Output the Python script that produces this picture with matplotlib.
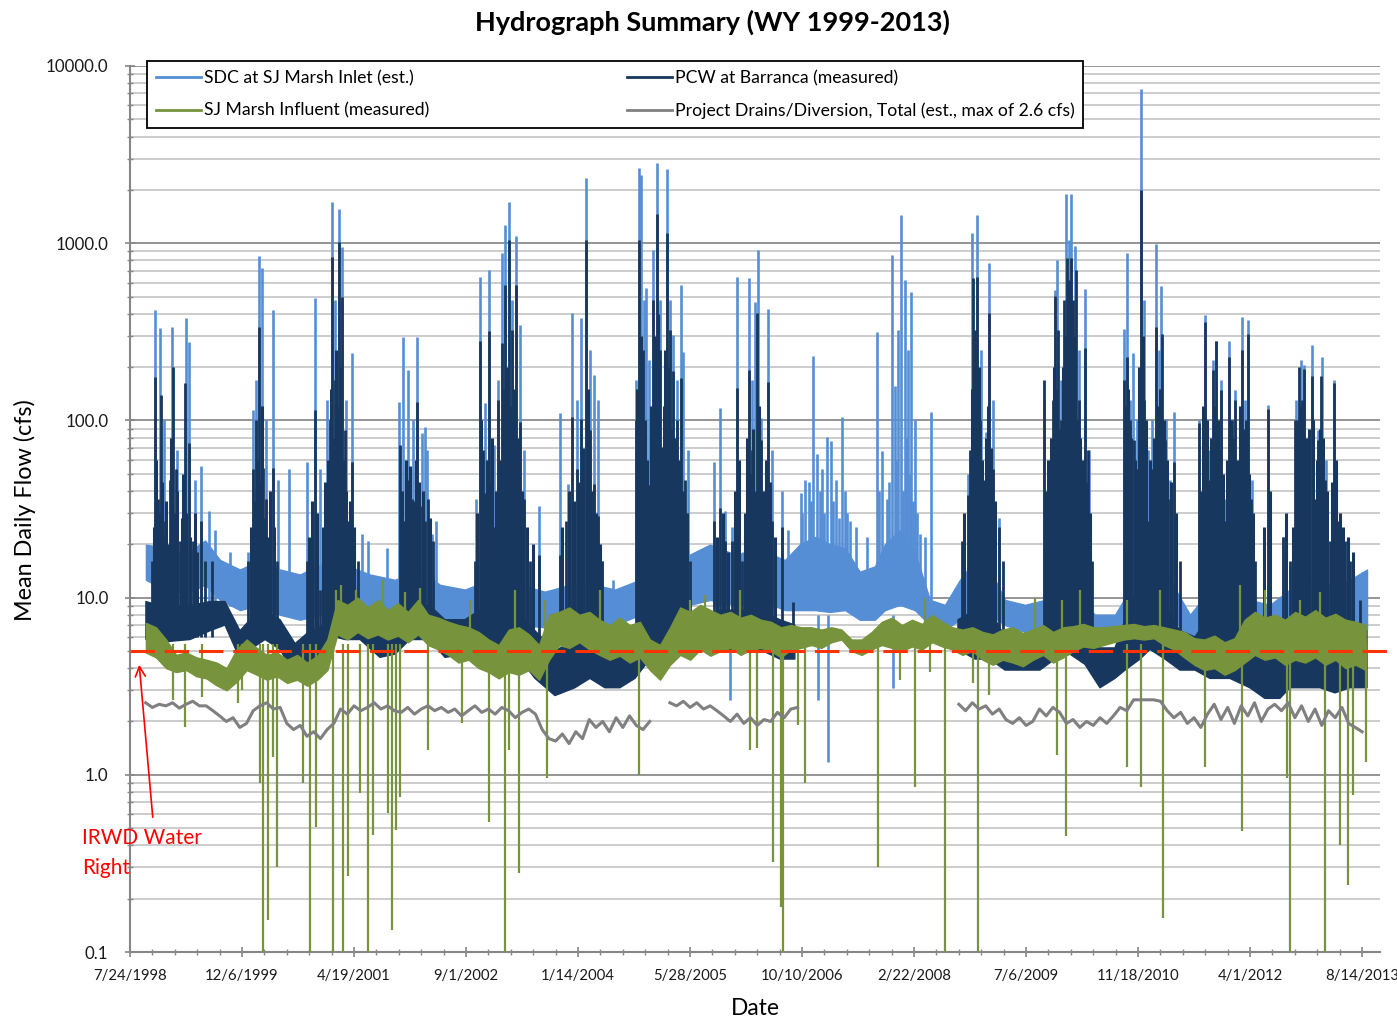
import numpy as np
import pandas as pd
import matplotlib
matplotlib.use("Agg")
import matplotlib.pyplot as plt
import matplotlib.dates as mdates
from matplotlib.lines import Line2D
from matplotlib.ticker import LogLocator, FuncFormatter, NullFormatter, FixedLocator

plt.rcParams["font.family"] = ["Lato", "DejaVu Sans"]

# day counts below are measured from this date
START = np.datetime64("1998-07-24")

date_ticks = ["7/24/1998", "12/6/1999", "4/19/2001", "9/1/2002", "1/14/2004", "5/28/2005",
              "10/10/2006", "2/22/2008", "7/6/2009", "11/18/2010", "4/1/2012", "8/14/2013"]
y_ticks = [0.1, 1.0, 10.0, 100.0, 1000.0, 10000.0]
water_right = 5.0   # IRWD water right, cfs

# ---- SDC at SJ Marsh Inlet (est.) ----
# low-flow band: day, low, high (cfs)
sdc_band_day = [71, 156, 245, 335, 402, 491, 580, 670, 759, 848, 960, 1071, 1183, 1294, 1384, 1495,
                1607, 1741, 1852, 1964, 2076, 2165, 2277, 2388, 2500, 2589, 2701, 2812, 2924, 2991,
                3058, 3125, 3192, 3258, 3325, 3370, 3437, 3504, 3571, 3638, 3705, 3772, 3839, 3906,
                3995, 4084, 4151, 4240, 4308, 4397, 4464, 4553, 4642, 4732, 4821, 4910, 4999, 5089,
                5178, 5267, 5356, 5446, 5522]
sdc_band_lo = [12.6, 11.1, 10.4, 11.8, 9.7, 8.5, 9.1, 8.0, 7.5, 8.0, 8.5, 8.5, 8.0, 8.5, 7.5, 7.0,
               7.5, 7.0, 6.8, 7.0, 7.0, 7.0, 8.0, 8.5, 9.1, 9.7, 9.1, 9.7, 8.5, 8.5,
               8.5, 8.3, 8.5, 7.5, 7.5, 8.5, 9.1, 8.5, 7.0, 6.6, 7.5, 8.0, 8.0, 7.0,
               6.4, 6.6, 7.0, 7.0, 5.8, 5.9, 7.5, 8.5, 8.0, 5.8, 7.0, 7.0, 6.6, 6.6,
               7.0, 7.5, 7.5, 7.0, 6.6]
sdc_band_hi = [19.9, 19.1, 17.5, 21.0, 16.3, 14.4, 16.3, 14.4, 13.5, 15.3, 15.3, 13.5, 12.6, 14.4, 11.8, 11.1,
               12.6, 11.8, 10.8, 11.8, 11.8, 11.1, 12.6, 14.4, 17.5, 19.9, 17.5, 18.6, 16.3, 20.0,
               22.0, 20.0, 19.0, 14.0, 15.0, 20.0, 24.0, 18.0, 9.7, 9.1, 12.6, 16.3, 14.4, 9.7,
               9.1, 9.7, 11.1, 9.7, 8.0, 8.0, 11.1, 16.3, 12.6, 8.0, 11.1, 11.1, 9.7, 9.1,
               11.1, 12.6, 11.8, 12.6, 14.4]
# storm peaks
sdc_peak_day = [111, 134, 152, 187, 210, 250, 263, 290, 317, 352, 379,
                446, 527, 549, 562, 576, 589, 607, 638, 660, 710,
                790, 826, 848, 879, 902, 915, 933, 946, 964, 991, 1036, 1062,
                1147, 1201, 1218, 1241, 1263, 1281, 1303, 1317, 1326, 1348, 1366,
                1544, 1562, 1585, 1602, 1625, 1643, 1660, 1674, 1692, 1705, 1723, 1741, 1759, 1772, 1826,
                1919, 1955, 1973, 1995, 2013, 2035, 2053, 2071, 2089, 2107, 2156,
                2259, 2272, 2281, 2294, 2303, 2317, 2335, 2352, 2366, 2375, 2397, 2410, 2424, 2442, 2460, 2468, 2491,
                2607, 2634, 2656, 2687, 2710, 2736, 2763, 2776, 2790, 2803, 2817, 2848, 2866, 2910, 2937,
                2995, 3013, 3049, 3067, 3089, 3111, 3129, 3152, 3178, 3214,
                3335, 3357, 3379, 3401, 3415, 3428, 3442, 3459, 3473, 3486, 3504, 3526, 3576,
                3741, 3759, 3781, 3799, 3821, 3834, 3852, 3879,
                4080, 4107, 4129, 4138, 4156, 4178, 4192, 4201, 4218, 4236, 4263, 4281,
                4437, 4450, 4464, 4477, 4495, 4513, 4527, 4544, 4562, 4580, 4593, 4602, 4625, 4642, 4660,
                4772, 4799, 4817, 4834, 4848, 4870, 4888, 4906, 4933, 4964, 4977, 4991, 5008, 5080,
                5147, 5178, 5205, 5227, 5241, 5258, 5276, 5303, 5321, 5339, 5375, 5401, 5437, 5499]
sdc_peak_cfs = [421, 333, 100, 337, 68, 379, 278, 46, 55, 31, 24,
                18, 18, 115, 169, 849, 726, 101, 421, 46, 53,
                58, 492, 53, 131, 1713, 480, 1563, 955, 131, 241, 23, 21,
                19, 127, 296, 193, 101, 296, 85, 92, 68, 23, 27,
                36, 646, 126, 708, 73, 169, 883, 1270, 1713, 480, 1101, 346, 68, 18, 33,
                110, 44, 405, 131, 379, 2339, 250, 181, 131, 16, 12.6,
                169, 2663, 2432, 480, 560, 220, 918, 2844, 480, 68, 2630, 480, 304, 169, 582, 244, 68,
                58, 118, 31, 25, 646, 18, 638, 169, 467, 918, 103, 426, 68, 40, 24,
                39, 46, 231, 65, 53, 81, 77, 46, 105, 27,
                316, 67, 36, 861, 157, 325, 1445, 621, 250, 532, 101, 23, 112,
                50, 1145, 1445, 250, 86, 775, 131, 28,
                131, 46, 546, 806, 169, 1900, 1045, 1900, 967, 250, 553, 68,
                329, 883, 131, 241, 100, 7430, 480, 68, 100, 993, 250, 575, 102, 46, 112,
                100, 394, 68, 220, 281, 169, 36, 281, 149, 384, 131, 370, 46, 122,
                22, 15, 131, 220, 206, 68, 267, 88, 229, 60, 169, 27, 21, 14]
# smaller freshets of WY 2007-2008
sdc_small_day = [3000, 3030, 3040, 3080, 3100, 3140, 3165, 3190, 3200, 3240, 3290,
                 3345, 3390, 3420, 3450, 3466, 3480, 3495, 3515, 3550]
sdc_small_cfs = [30, 45, 35, 40, 30, 35, 28, 40, 30, 25, 22,
                 40, 45, 60, 40, 80, 50, 35, 30, 22]
sdc_dip_day = [2678, 3071, 3116, 3406]
sdc_dip_cfs = [2.65, 2.65, 1.18, 3.1]

# ---- PCW at Barranca (measured) ----
pcw_band_day = [71, 134, 268, 357, 424, 491, 536, 603, 670, 737, 804, 870, 915, 960, 1027, 1116,
                1183, 1250, 1339, 1406, 1495, 1562, 1652, 1741, 1808, 1897, 1986, 2053, 2120, 2187,
                2254, 2321, 2410, 2500, 2544, 2634, 2723, 2812, 2901, 2968, 3300,
                3696, 3772, 3839, 3906, 3973, 4062, 4129, 4196, 4263, 4330, 4397, 4442, 4509, 4553,
                4620, 4687, 4754, 4821, 4910, 4999, 5066, 5133, 5178, 5245, 5312, 5379, 5446, 5522]
pcw_band_lo = [5.8, 5.6, 5.8, 6.5, 7.0, 4.5, 5.1, 5.8, 5.1, 3.6, 4.0, 4.5, 6.0, 5.8, 5.8, 4.6,
               4.8, 5.8, 5.8, 4.6, 4.8, 5.1, 4.5, 4.5, 3.5, 2.8, 3.1, 3.5, 3.1, 3.1,
               3.5, 4.5, 4.5, 5.1, 5.8, 5.1, 5.1, 5.1, 4.5, 4.5, np.nan,
               5.1, 4.5, 4.5, 3.9, 3.9, 3.9, 4.5, 4.8, 4.2, 3.1, 3.5, 3.9, 4.5, 5.1,
               4.5, 3.9, 3.9, 3.5, 3.5, 3.1, 2.7, 2.7, 3.1, 3.1, 3.1, 2.9, 3.1, 3.1]
pcw_band_hi = [9.5, 9.0, 9.0, 9.5, 9.5, 6.5, 7.5, 8.5, 7.5, 5.5, 6.5, 7.0, 9.0, 9.0, 8.5, 7.5,
               7.8, 9.0, 9.0, 7.5, 7.5, 8.5, 8.5, 8.0, 6.5, 5.0, 5.8, 7.0, 5.2, 4.8,
               6.0, 8.5, 8.5, 7.5, 7.5, 8.5, 8.5, 8.5, 7.5, 7.0, np.nan,
               7.5, 8.5, 8.5, 6.0, 5.5, 6.5, 8.5, 9.5, 8.0, 5.2, 5.2, 7.5, 12.0, 12.0,
               9.0, 6.5, 6.0, 8.0, 8.0, 7.0, 5.0, 5.0, 6.5, 8.0, 8.0, 7.5, 7.0, 6.5]
pcw_peak_day = [98, 111, 125, 138, 156, 178, 192, 205, 223, 245, 263, 281, 317, 335, 366,
                527, 549, 562, 576, 594, 607, 638, 656,
                790, 826, 848, 879, 893, 902, 915, 933, 946, 960, 973, 991, 1018,
                1205, 1223, 1241, 1259, 1281, 1303, 1317, 1330, 1352,
                1540, 1562, 1576, 1585, 1602, 1625, 1643, 1660, 1674, 1692, 1705, 1723, 1741, 1759, 1785, 1826,
                1919, 1946, 1973, 1995, 2013, 2035, 2053, 2071, 2089, 2107,
                2259, 2272, 2290, 2303, 2317, 2335, 2352, 2366, 2375, 2397, 2410, 2424, 2442, 2460, 2477, 2500,
                2607, 2634, 2656, 2687, 2710, 2732, 2763, 2776, 2790, 2799, 2817, 2848, 2866, 2910, 2959,
                3714, 3741, 3750, 3763, 3772, 3781, 3794, 3812, 3834, 3852, 3879, 3897,
                4080, 4107, 4120, 4129, 4143, 4156, 4170, 4183, 4192, 4201, 4210, 4223, 4236, 4250, 4263, 4276, 4294,
                4437, 4450, 4464, 4482, 4495, 4513, 4527, 4544, 4562, 4580, 4593, 4607, 4620, 4634, 4660, 4687,
                4772, 4785, 4799, 4817, 4834, 4848, 4861, 4870, 4888, 4906, 4919, 4933, 4950, 4964, 4977, 4991, 5004, 5022, 5080,
                5147, 5178, 5200, 5218, 5232, 5241, 5258, 5276, 5290, 5303, 5317, 5334, 5357, 5375, 5392, 5424, 5446, 5490]
pcw_peak_cfs = [16, 176, 36, 139, 27, 46, 201, 53, 21, 163, 75, 21, 27, 16, 16,
                16, 53, 101, 337, 54, 36, 54, 16,
                16, 115, 11, 36, 101, 838, 169, 1018, 499, 88, 27, 58, 16,
                73, 27, 46, 36, 127, 33, 27, 36, 21,
                16, 281, 68, 39, 320, 25, 131, 274, 582, 1045, 325, 582, 98, 36, 16, 17.5,
                17.5, 27, 105, 53, 102, 1045, 88, 44, 29, 16,
                101, 1045, 250, 49, 43, 480, 1465, 250, 71, 1145, 325, 191, 101, 174, 46, 16,
                27, 32, 21, 21, 153, 16, 193, 68, 40, 405, 78, 165, 27, 25, 9.5,
                21, 38, 68, 638, 325, 646, 101, 46, 405, 53, 25, 16,
                169, 27, 131, 505, 325, 101, 480, 827, 621, 827, 480, 708, 131, 53, 257, 68, 16,
                169, 229, 101, 78, 53, 2000, 131, 27, 53, 337, 101, 308, 78, 36, 58, 16,
                97, 27, 360, 46, 193, 281, 68, 149, 27, 229, 101, 131, 53, 250, 78, 308, 36, 16, 116,
                22, 16, 101, 201, 131, 195, 53, 179, 36, 78, 179, 46, 21, 163, 27, 21, 16, 9.7]
# body of each storm season between the named peaks
pcw_storm_day = [105, 118, 131, 145, 150, 162, 168, 185, 198, 212, 230, 238, 252, 270, 290, 300,
                 540, 555, 568, 582, 588, 600, 615, 625, 645,
                 800, 812, 835, 860, 870, 885, 897, 908, 920, 926, 940, 953, 966, 980, 1000,
                 1212, 1230, 1248, 1268, 1275, 1290, 1310, 1340,
                 1550, 1568, 1595, 1610, 1618, 1632, 1650, 1667, 1684, 1698, 1714, 1730, 1750, 1770, 1800,
                 1930, 1960, 1980, 2005, 2022, 2043, 2062, 2080, 2098,
                 2265, 2280, 2297, 2310, 2326, 2344, 2358, 2383, 2390, 2403, 2417, 2433, 2450, 2468, 2485,
                 2620, 2645, 2670, 2700, 2718, 2745, 2755, 2770, 2783, 2808, 2826, 2838, 2856, 2880,
                 3725, 3757, 3768, 3776, 3788, 3803, 3820, 3828, 3842, 3862,
                 4090, 4100, 4113, 4125, 4136, 4150, 4163, 4176, 4188, 4196, 4206, 4216, 4230, 4243, 4256, 4270, 4285,
                 4443, 4457, 4470, 4488, 4505, 4520, 4535, 4553, 4570, 4586, 4600, 4614, 4627, 4647, 4670,
                 4779, 4792, 4806, 4825, 4841, 4855, 4877, 4896, 4913, 4926, 4942, 4957, 4970, 4984, 4997, 5012, 5060, 5090,
                 5160, 5190, 5210, 5225, 5248, 5265, 5283, 5297, 5310, 5325, 5342, 5365, 5383, 5400, 5415, 5435, 5460]
pcw_storm_cfs = [25, 60, 30, 45, 22, 35, 20, 80, 30, 40, 28, 50, 30, 22, 30, 18,
                 25, 35, 60, 45, 120, 28, 22, 40, 25,
                 22, 35, 30, 25, 45, 60, 150, 80, 250, 120, 200, 60, 40, 35, 25,
                 40, 60, 55, 35, 60, 45, 40, 28,
                 30, 100, 60, 45, 80, 40, 60, 150, 200, 120, 150, 80, 40, 25, 20,
                 25, 40, 35, 45, 70, 150, 40, 30, 20,
                 150, 300, 100, 60, 120, 300, 400, 120, 250, 200, 90, 80, 60, 40, 30,
                 22, 30, 18, 40, 60, 30, 80, 50, 90, 120, 40, 60, 45, 22,
                 30, 150, 200, 150, 200, 60, 80, 120, 70, 35,
                 40, 60, 80, 200, 150, 90, 200, 300, 250, 300, 250, 300, 100, 80, 60, 45, 30,
                 120, 150, 80, 60, 200, 300, 100, 60, 80, 120, 150, 100, 60, 45, 30,
                 40, 120, 100, 80, 120, 100, 50, 60, 100, 80, 60, 120, 90, 100, 50, 30, 25, 40,
                 30, 25, 100, 120, 80, 90, 100, 60, 90, 80, 40, 45, 60, 30, 25, 22, 18]

# ---- SJ Marsh Influent (measured) ----
# band sampled every 45 days from day 71
sjm_band_day = list(range(71, 5521, 45))
sjm_band_lo = [4.9, 4.6, 4.0, 3.8, 3.9, 3.6, 3.5, 3.2, 3.0, 3.35, 3.9, 3.67, 3.44, 3.6, 3.3, 3.44,
               3.18, 3.44, 3.9, 6.2, 5.8, 6.4, 5.9, 6.2, 5.8, 6.1, 5.6, 6.2, 5.4, 5.1, 4.75, 4.3,
               4.46, 4.0, 3.8, 3.5, 3.8, 3.67, 3.9, 3.44, 4.46, 5.4, 5.2, 5.6, 5.1, 4.75, 4.46, 4.7,
               4.3, 4.6, 3.9, 3.44, 4.18, 4.75, 4.46, 5.1, 4.7, 5.0, 5.2, 4.75, 5.1, 5.2, 5.0, 4.6,
               5.1, 5.2, 5.4, 5.2, 5.6, 5.8, 5.0, 4.75, 5.1, 5.4, 5.2, 5.0, 5.3, 5.1, 5.6, 5.3,
               5.1, 4.75, 5.0, 4.46, 4.18, 4.46, 4.3, 4.1, 4.46, 4.75, 4.3, 4.6, 5.0, 5.3, 5.2, 5.4,
               5.6, 5.8, 5.9, 5.8, 5.9, 5.4, 5.1, 4.6, 4.18, 3.9, 4.0, 3.67, 3.9, 4.3, 4.75, 4.46,
               4.6, 4.18, 4.46, 4.3, 4.6, 4.18, 4.46, 4.0, 4.18, 3.9]
sjm_band_hi = [7.2, 6.8, 5.8, 4.75, 4.9, 4.6, 4.46, 4.3, 4.0, 5.1, 5.8, 5.2, 4.75, 4.9, 4.46, 4.75,
               4.3, 4.7, 5.8, 9.7, 9.1, 10.0, 8.8, 9.7, 8.5, 9.3, 8.3, 9.7, 8.0, 7.7, 7.3, 7.0,
               6.8, 6.4, 5.8, 5.4, 6.6, 6.8, 6.2, 5.4, 8.0, 8.3, 8.8, 8.0, 8.3, 7.5, 7.0, 7.7,
               7.0, 7.3, 5.8, 5.4, 6.8, 8.8, 8.3, 9.1, 8.5, 8.0, 8.3, 7.7, 8.0, 7.5, 7.3, 6.8,
               7.0, 6.8, 6.8, 6.6, 6.8, 6.6, 5.8, 5.8, 6.4, 7.3, 7.7, 7.0, 7.5, 7.1, 8.0, 7.3,
               6.8, 6.6, 6.8, 6.4, 6.2, 6.6, 6.8, 6.3, 6.6, 7.0, 6.4, 6.8, 6.9, 7.1, 6.8, 6.8,
               6.9, 7.0, 7.1, 6.9, 7.0, 6.8, 6.6, 6.4, 5.9, 5.8, 6.1, 5.6, 5.9, 7.5, 8.3, 7.7,
               8.0, 7.5, 8.3, 7.8, 8.5, 7.7, 8.1, 7.5, 7.3, 7.0]
sjm_peak_day = [919, 942, 1009, 1129, 1227, 1294, 1518, 1719, 1852, 2098, 2500, 2567, 2723,
                3549, 4040, 4160, 4240, 4450, 4598, 4955, 5066, 5223, 5312]
sjm_peak_cfs = [11.1, 11.8, 11.1, 12.6, 10.8, 11.4, 9.7, 11.1, 9.7, 11.1, 9.7, 10.4, 11.1,
                10.0, 10.0, 9.7, 11.1, 9.7, 11.1, 11.8, 11.1, 9.7, 10.8]
# diversion shut-offs (values under 0.1 cfs run off the axis)
sjm_dip_day = [192, 245, 321, 482, 500, 580, 594, 616, 638, 656, 772, 803, 830, 906, 951, 973,
               1027, 1062, 1085, 1152, 1169, 1187, 1205, 1330, 1482, 1602, 1674, 1692, 1736, 1861,
               2272, 2768, 2799, 2870, 2906, 2915, 2982, 3013, 3339, 3437, 3504, 3571, 3638, 3763,
               3785, 3834, 4138, 4178, 4450, 4513, 4611, 4799, 4964, 5165, 5178, 5334, 5401, 5437,
               5459, 5517]
sjm_dip_cfs = [2.65, 1.87, 2.75, 2.55, 3.02, 0.90, 0.05, 0.152, 1.26, 0.30, 0.90, 0.05, 0.51, 0.05, 0.05, 0.27,
               0.79, 0.05, 0.46, 0.61, 0.133, 0.49, 0.75, 1.38, 1.97, 0.54, 0.05, 1.38, 0.28, 0.96,
               1.0, 1.38, 1.42, 0.32, 0.18, 0.05, 1.92, 0.90, 0.30, 3.44, 0.85, 3.8, 0.05, 3.30,
               0.05, 2.83, 1.30, 0.45, 1.11, 0.85, 0.156, 1.11, 0.48, 0.96, 0.05, 0.05, 0.40, 0.24,
               0.77, 1.18]

# ---- Project Drains/Diversion, Total (est.) : 30-day readings, three records ----
drain_day = (list(range(70, 2321, 30)) + [2350] + list(range(2410, 2981, 30)) + [3300]
             + list(range(3700, 5501, 30)))
drain_cfs = ([2.55, 2.40, 2.50, 2.45, 2.55, 2.38, 2.50, 2.60, 2.45,
              2.45, 2.30,
              2.15, 2.00, 2.10, 1.85, 1.95,
              2.30, 2.45, 2.55, 2.35, 2.40,
              1.95, 1.80, 1.90, 1.65, 1.75, 1.60, 1.80, 1.95,
              2.35, 2.20, 2.45, 2.30, 2.40, 2.55, 2.35, 2.45, 2.30, 2.25, 2.40, 2.20, 2.35, 2.45, 2.30,
              2.40, 2.25, 2.35, 2.15, 2.30, 2.45, 2.25, 2.35, 2.20, 2.40, 2.30, 2.10, 2.25, 2.35, 2.20,
              1.80, 1.60, 1.55, 1.70, 1.50, 1.75, 1.60,
              2.05, 1.85, 2.00, 1.75, 2.10, 1.85, 2.15, 1.90, 1.80, 2.00]
             + [np.nan]
             + [2.55, 2.45, 2.60, 2.40, 2.55, 2.35, 2.45, 2.30,
                2.15, 2.00, 2.20, 1.95, 2.10, 1.90, 2.05, 2.00, 2.25, 2.10, 2.35, 2.40]
             + [np.nan]
             + [2.50, 2.30, 2.55, 2.35, 2.45, 2.20, 2.35,
                2.05, 1.95, 2.10, 1.90, 2.00, 2.35, 2.15,
                2.40, 2.25, 1.95, 2.05, 1.85, 2.00, 1.90, 2.10, 1.95, 2.15, 2.40, 2.30,
                2.65, 2.65, 2.65, 2.65, 2.60,
                2.30, 2.10, 2.25, 1.95, 2.10, 1.85,
                2.20, 2.50, 2.05, 2.40, 1.95, 2.45, 2.15, 2.55, 2.00, 2.35, 2.50,
                2.30, 2.55, 2.10, 2.45, 2.00, 2.35, 1.90, 2.30, 2.10, 2.40, 1.95, 1.85,
                1.75])

LIGHT = "#558ED5"
NAVY = "#17375E"
GREEN = "#77933C"
GRAY = "#808080"


def dates(days):
    return START + np.asarray(days).astype("timedelta64[D]")


fig = plt.figure(figsize=(13.97, 10.21), dpi=100)
ax = fig.add_axes([130 / 1397, 69 / 1021, 1250 / 1397, 886 / 1021])
ax.set_yscale("log")
ax.set_ylim(0.1, 10000)
ax.set_xlim(dates(0), dates(5580))

# SDC
ax.fill_between(dates(sdc_band_day), sdc_band_lo, sdc_band_hi, color=LIGHT, lw=1.0, zorder=2)
ax.vlines(dates(sdc_peak_day), 9, sdc_peak_cfs, color=LIGHT, lw=1.9, zorder=2)
ax.vlines(dates(sdc_small_day), 9, sdc_small_cfs, color=LIGHT, lw=1.9, zorder=2)
ax.vlines(dates(sdc_dip_day), 8, sdc_dip_cfs, color=LIGHT, lw=1.9, zorder=2)

# PCW
ax.fill_between(dates(pcw_band_day), pcw_band_lo, pcw_band_hi, color=NAVY, lw=1.0, zorder=3)
ax.vlines(dates(pcw_storm_day), 6, pcw_storm_cfs, color=NAVY, lw=2.2, zorder=3)
ax.vlines(dates(pcw_peak_day), 6, pcw_peak_cfs, color=NAVY, lw=2.0, zorder=3)

# SJ Marsh influent
ax.fill_between(dates(sjm_band_day), sjm_band_lo, sjm_band_hi, color=GREEN, lw=1.0, zorder=4)
ax.vlines(dates(sjm_peak_day), 6.5, sjm_peak_cfs, color=GREEN, lw=1.6, zorder=4)
ax.vlines(dates(sjm_dip_day), 5.5, sjm_dip_cfs, color=GREEN, lw=1.6, zorder=4)

# project drains
ax.plot(dates(drain_day), drain_cfs, color=GRAY, lw=2.2, zorder=5)

# water right line runs a little past the plot edge
ax.plot(dates([0, 5616]), [water_right, water_right], color="#FF3300", lw=2.2,
        dashes=(8, 3.2), zorder=6, clip_on=False)

# axes styling
ax.yaxis.set_major_locator(FixedLocator(y_ticks))
ax.yaxis.set_major_formatter(FuncFormatter(lambda v, p: f"{v:.1f}"))
ax.yaxis.set_minor_locator(LogLocator(base=10, subs=range(2, 10), numticks=30))
ax.yaxis.set_minor_formatter(NullFormatter())

tick_dates = pd.to_datetime(date_ticks, format="%m/%d/%Y")
ax.set_xticks(tick_dates)
ax.set_xticklabels(date_ticks)
ax.xaxis.set_minor_locator(FixedLocator(mdates.date2num(dates(np.arange(0, 5580, 100)))))

ax.grid(which="major", axis="y", color="#8c8c8c", lw=1.3, zorder=0)
ax.grid(which="minor", axis="y", color="#c8c8c8", lw=1.3, zorder=0)
ax.set_axisbelow(True)

for s in ["top", "right"]:
    ax.spines[s].set_visible(False)
for s in ["left", "bottom"]:
    ax.spines[s].set_color("#868686")
    ax.spines[s].set_linewidth(1.5)

ax.tick_params(axis="both", which="major", direction="inout", length=7, width=1.2,
               color="#868686", labelcolor="#1a1a1a")
ax.tick_params(axis="both", which="minor", direction="inout", length=5, width=1.0, color="#868686")
ax.tick_params(axis="x", which="major", pad=9, labelsize=10.7)
ax.tick_params(axis="y", which="major", pad=12, labelsize=12.2)

# titles
fig.text(712 / 1397, 1 - 22 / 1021, "Hydrograph Summary (WY 1999-2013)", ha="center", va="center",
         fontsize=19.5, fontweight="bold")
fig.text(25 / 1397, 1 - 510 / 1021, "Mean Daily Flow (cfs)", rotation=90, ha="center", va="center",
         fontsize=16.8)
fig.text(755 / 1397, 1 - 1008 / 1021, "Date", ha="center", va="center", fontsize=16.4)

# water right note with arrow
fig.text(82 / 1397, 1 - 838 / 1021, "IRWD Water", color="red", ha="left", va="center", fontsize=15)
fig.text(82 / 1397, 1 - 868 / 1021, "Right", color="red", ha="left", va="center", fontsize=15)
ax.annotate("", xy=(139, 1021 - 662), xycoords="figure pixels",
            xytext=(153, 1021 - 820), textcoords="figure pixels",
            arrowprops=dict(arrowstyle="->", color="red", lw=1.2, mutation_scale=18))

handles = [Line2D([], [], color=LIGHT, lw=2), Line2D([], [], color=GREEN, lw=2),
           Line2D([], [], color=NAVY, lw=2), Line2D([], [], color=GRAY, lw=2)]
labels = ["SDC at SJ Marsh Inlet (est.)", "SJ Marsh Influent (measured)",
          "PCW at Barranca (measured)", "Project Drains/Diversion, Total (est., max of 2.6 cfs)"]
leg = fig.legend(handles, labels, ncol=2, loc="upper left",
                 bbox_to_anchor=(147 / 1397, 1 - 61 / 1021), fontsize=12.7,
                 frameon=True, fancybox=False, edgecolor="black", framealpha=1,
                 handlelength=2.55, handletextpad=0.17, columnspacing=11.2,
                 labelspacing=0.95, borderpad=0.5, borderaxespad=0)
leg.get_frame().set_linewidth(1.3)
leg.set_zorder(10)

fig.savefig("out.png", dpi=100)
